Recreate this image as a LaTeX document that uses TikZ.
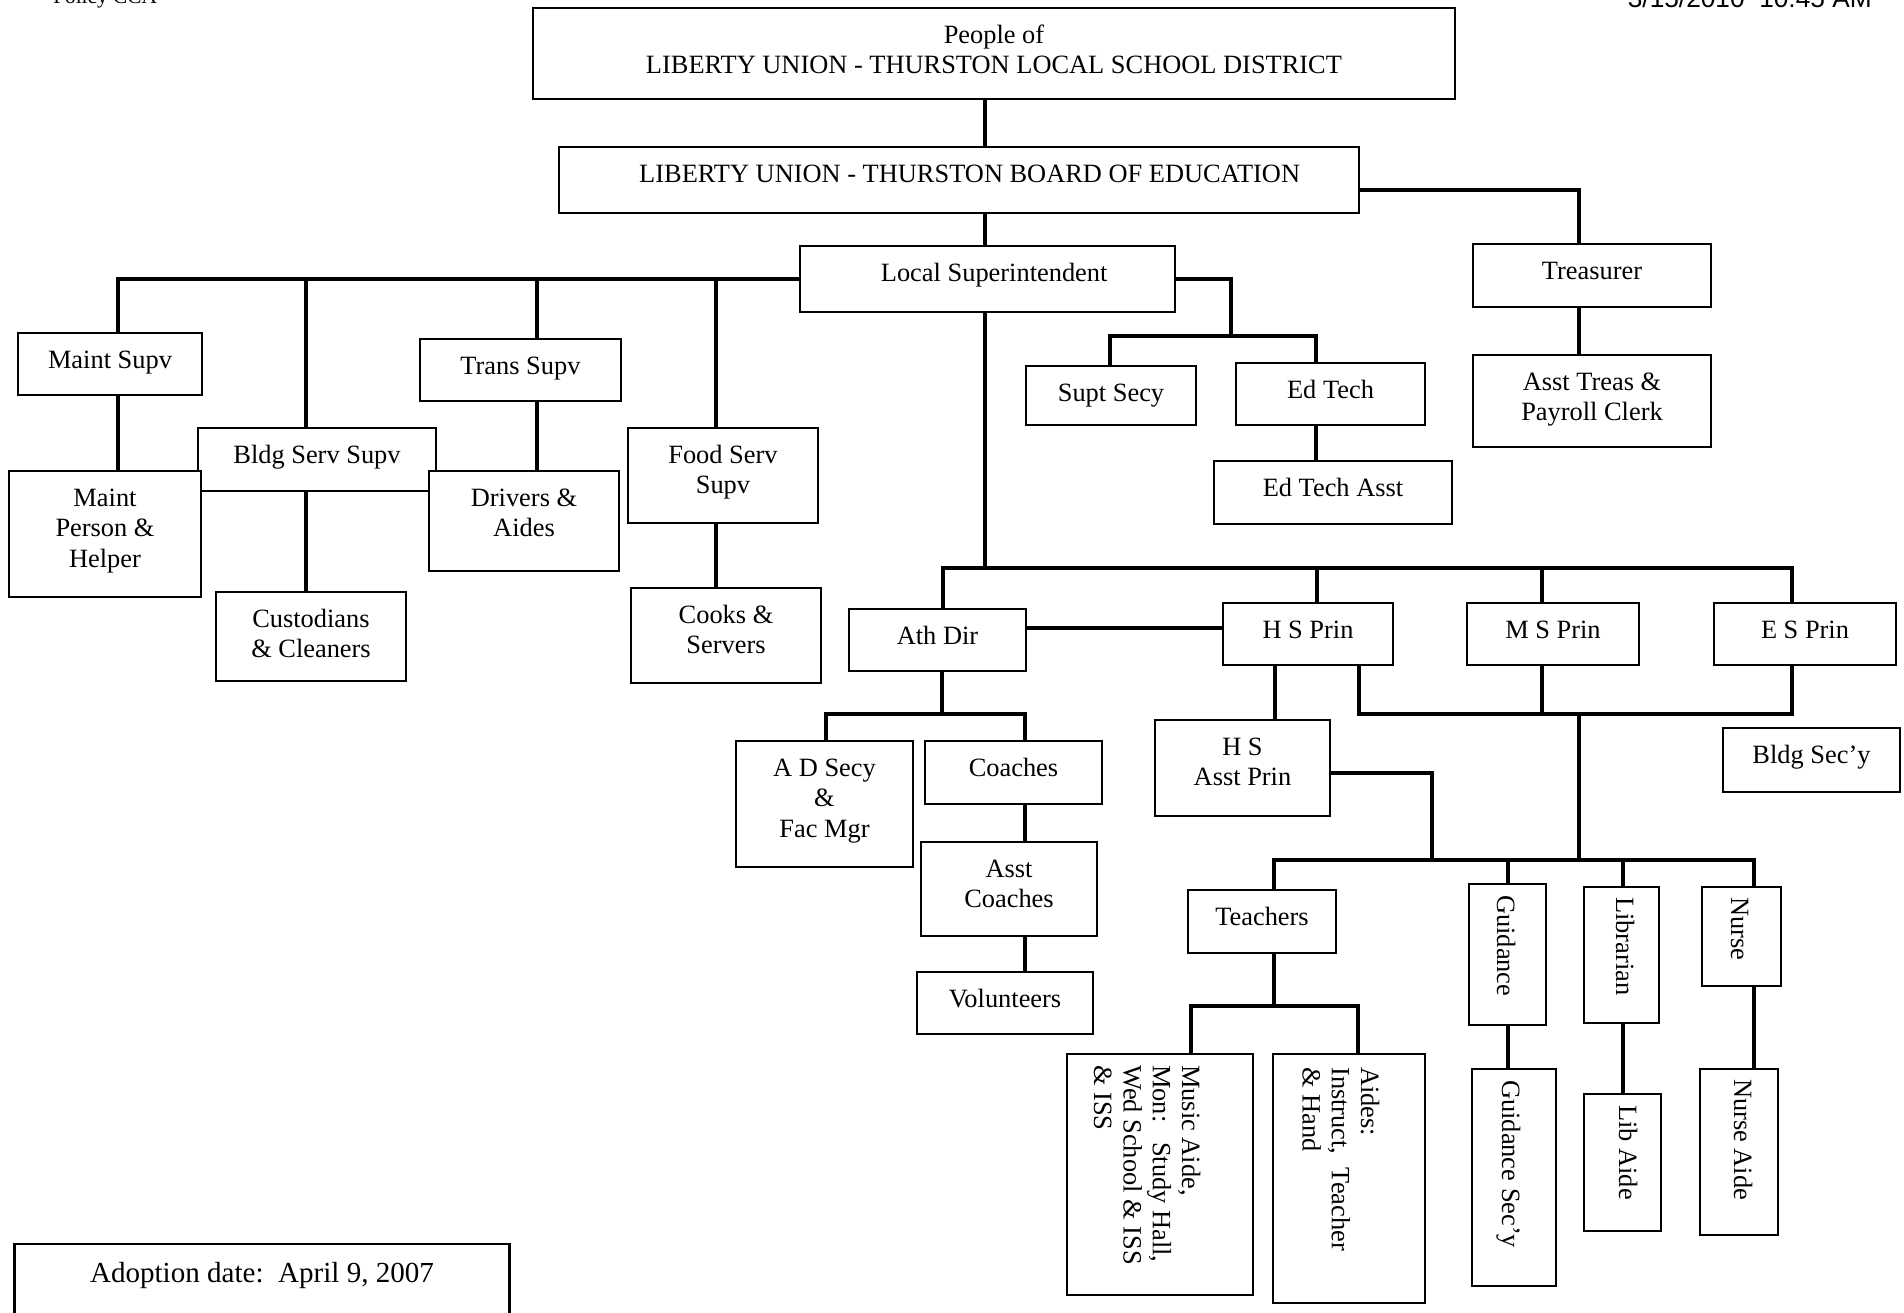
\documentclass[tikz,border=0pt]{standalone}
\usepackage{fontspec}
\setmainfont{Liberation Serif}
\newfontfamily\arialfont{Liberation Sans}
\tikzset{
  obx/.style={draw, fill=white, line width=2pt, inner sep=0pt},
  otx/.style={anchor=north, inner sep=0pt, align=center, font=\fontsize{19.8}{23}\selectfont},
  rtx/.style={anchor=north west, inner sep=0pt, align=left, rotate=-90, font=\fontsize{19.8}{22}\selectfont},
  conn/.style={line width=2.3pt, line cap=rect},
}
\newcommand\obox[7][0pt]{%
  \node[obx, minimum width={(#5-#3)*0.75pt}, minimum height={(#6-#4)*0.75pt}] (#2) at ({(#3+#5)/2},{(#4+#6)/2}) {};
  \node[otx] (#2-t) at ([yshift=-11pt, xshift=#1]#2.north) {\strut #7};}
\newcommand\rbox[8]{%
  \node[obx, minimum width={(#4-#2)*0.75pt}, minimum height={(#5-#3)*0.75pt}] (#1) at ({(#2+#4)/2},{(#3+#5)/2}) {};
  \node[rtx] (#1-t) at ({#7+3},#8) {\strut #6};}
\begin{document}
\begin{tikzpicture}[x=0.75pt, y=-0.75pt]
\useasboundingbox (0,0) rectangle (1904,1313);
\clip (0,0) rectangle (1904,1313);

% header texts
\node[anchor=base west, inner sep=0pt, font=\fontsize{16}{19}\selectfont] (policy) at (53,3.3) {Policy CCA};
\node[anchor=base east, inner sep=0pt, font=\arialfont\fontsize{19.7}{23}\selectfont] (date) at (1872,7.3) {3/15/2010\ \ 10:45 AM};

% junction coordinates
\coordinate (vMain) at (985,0);
\coordinate (vTre) at (1579,0);
\coordinate (eJ) at (1231,336);
\coordinate (eB1) at (1110,336);
\coordinate (eB2) at (1316,336);
\coordinate (lB) at (118,0);
\coordinate (lb2) at (306,0);
\coordinate (lb3) at (537,0);
\coordinate (lb4) at (716,0);
\coordinate (mL) at (943,568);
\coordinate (mR) at (1792,568);
\coordinate (xHS) at (1317,568);
\coordinate (xMS) at (1542,568);
\coordinate (ahY) at (0,628);
\coordinate (aJ) at (942,714);
\coordinate (aL) at (826,714);
\coordinate (aR) at (1025,714);
\coordinate (hA) at (1275,0);
\coordinate (pL) at (1359,714);
\coordinate (pM) at (1542,714);
\coordinate (pR) at (1792,714);
\coordinate (pJ) at (1579,714);
\coordinate (bJ) at (1579,860);
\coordinate (bL) at (1274,860);
\coordinate (bR) at (1754,860);
\coordinate (bG) at (1508,860);
\coordinate (bLi) at (1623,860);
\coordinate (tY) at (0,773);
\coordinate (tX) at (1432,860);
\coordinate (sJ) at (1274,1006);
\coordinate (sL) at (1191,1006);
\coordinate (sR) at (1358,1006);

% boxes
\obox{people}{533}{8}{1455}{99}{People of\\LIBERTY UNION - THURSTON LOCAL SCHOOL DISTRICT}
\obox[8pt]{board}{559}{147}{1359}{213}{LIBERTY UNION - THURSTON BOARD OF EDUCATION}
\obox[5pt]{sup}{800}{246}{1175}{312}{Local Superintendent}
\obox{treas}{1473}{244}{1711}{307}{Treasurer}
\obox{atreas}{1473}{355}{1711}{447}{Asst Treas \&\\Payroll Clerk}
\obox{secy}{1026}{366}{1196}{425}{Supt Secy}
\obox{edtech}{1236}{363}{1425}{425}{Ed Tech}
\obox{edasst}{1214}{461}{1452}{524}{Ed Tech Asst}
\obox{maint}{18}{333}{202}{395}{Maint Supv}
\obox{bldg}{198}{428}{436}{491}{Bldg Serv Supv}
\obox{trans}{420}{339}{621}{401}{Trans Supv}
\obox{cust}{216}{592}{406}{681}{Custodians\\\& Cleaners}
\obox{food}{628}{428}{818}{523}{Food Serv\\Supv}
\obox{cooks}{631}{588}{821}{683}{Cooks \&\\Servers}
\obox{athdir}{849}{609}{1026}{671}{Ath Dir}
\obox{hsprin}{1223}{603}{1393}{665}{H S Prin}
\obox{msprin}{1467}{603}{1639}{665}{M S Prin}
\obox{esprin}{1714}{603}{1896}{665}{E S Prin}
\obox{adsecy}{736}{741}{913}{867}{A D Secy\\\&\\Fac Mgr}
\obox{coaches}{925}{741}{1102}{804}{Coaches}
\obox{acoach}{921}{842}{1097}{936}{Asst\\Coaches}
\obox{vol}{917}{972}{1093}{1034}{Volunteers}
\obox{hsasst}{1155}{720}{1330}{816}{H S\\Asst Prin}
\obox{bldgsec}{1723}{728}{1900}{792}{Bldg Sec'y}
\obox{teachers}{1188}{890}{1336}{953}{Teachers}
\rbox{guid}{1469}{884}{1546}{1025}{Guidance}{1515}{895}
\rbox{lib}{1584}{887}{1659}{1023}{Librarian}{1634}{897}
\rbox{nurse}{1702}{887}{1781}{986}{Nurse}{1749}{897}
\rbox{music}{1067}{1054}{1253}{1295}{Music Aide,\\Mon:\ \ \ Study Hall,\\Wed School \& ISS\\\& ISS}{1200}{1065}
\rbox{aides}{1273}{1054}{1425}{1303}{Aides:\\Instruct,\ \ Teacher\\\& Hand}{1379}{1067}
\rbox{guidsec}{1472}{1069}{1556}{1286}{Guidance Sec'y}{1520}{1080}
\rbox{libaide}{1584}{1094}{1661}{1231}{Lib Aide}{1637}{1105}
\rbox{nurseaide}{1700}{1069}{1778}{1235}{Nurse Aide}{1752}{1079}

% adoption box
\node[obx, minimum width={(509.7-14.5)*0.75pt}, minimum height={(1345-1244)*0.75pt}] (adopt) at ({(14.5+509.7)/2},{(1244+1345)/2}) {};
\node[anchor=base, inner sep=0pt, font=\fontsize{21.8}{25}\selectfont] (adopt-t) at (262,1282) {Adoption date:\ \ April 9, 2007};

% connectors
\draw[conn] (people.south -| vMain) -- (board.north -| vMain);
\draw[conn] (board.south -| vMain) -- (sup.north -| vMain);
\draw[conn] ([yshift=-7.5pt]board.east) -| (treas.north -| vTre);
\draw[conn] (treas.south -| vTre) -- (atreas.north -| vTre);
\draw[conn] (sup.east) -| (eJ);
\draw[conn] (secy.north -| eB1) -- (eB1) -- (eB2) -- (edtech.north -| eB2);
\draw[conn] (edtech.south -| eB2) -- (edasst.north -| eB2);
\draw[conn] (sup.west) -- (sup.west -| lB) -- (maint.north -| lB);
\draw[conn] (sup.west -| lb2) -- (bldg.north -| lb2);
\draw[conn] (sup.west -| lb3) -- (trans.north -| lb3);
\draw[conn] (sup.west -| lb4) -- (food.north -| lb4);
\draw[conn] (bldg.south -| lb2) -- (cust.north -| lb2);
\draw[conn] (food.south -| lb4) -- (cooks.north -| lb4);
\draw[conn] (sup.south -| vMain) -- (vMain |- mL);
\draw[conn] (athdir.north -| mL) -- (mL) -- (mR) -- (esprin.north -| mR);
\draw[conn] (xHS) -- (hsprin.north -| xHS);
\draw[conn] (xMS) -- (msprin.north -| xMS);
\draw[conn] (athdir.east |- ahY) -- (hsprin.west |- ahY);
\draw[conn] (athdir.south -| aJ) -- (aJ);
\draw[conn] (adsecy.north -| aL) -- (aL) -- (aR) -- (coaches.north -| aR);
\draw[conn] (coaches.south -| aR) -- (acoach.north -| aR);
\draw[conn] (acoach.south -| aR) -- (vol.north -| aR);
\draw[conn] (hsprin.south -| hA) -- (hsasst.north -| hA);
\draw[conn] (hsprin.south -| pL) -- (pL) -- (pR) -- (esprin.south -| pR);
\draw[conn] (msprin.south -| pM) -- (pM);
\draw[conn] (pJ) -- (bJ);
\draw[conn] (hsasst.east |- tY) -| (tX);
\draw[conn] (teachers.north -| bL) -- (bL) -- (bR) -- (nurse.north -| bR);
\draw[conn] (bG) -- (guid.north -| bG);
\draw[conn] (bLi) -- (lib.north -| bLi);
\draw[conn] (teachers.south -| sJ) -- (sJ);
\draw[conn] (music.north -| sL) -- (sL) -- (sR) -- (aides.north -| sR);
\draw[conn] (guid.south -| bG) -- (guidsec.north -| bG);
\draw[conn] (lib.south -| bLi) -- (libaide.north -| bLi);
\draw[conn] (nurse.south -| bR) -- (nurseaide.north -| bR);

% Maint Person and Drivers lie over the Bldg Serv box
\obox{mperson}{9}{471}{201}{597}{Maint\\Person \&\\Helper}
\obox{drivers}{429}{471}{619}{571}{Drivers \&\\Aides}
\draw[conn] (maint.south -| lB) -- (mperson.north -| lB);
\draw[conn] (trans.south -| lb3) -- (drivers.north -| lb3);
\end{tikzpicture}
\end{document}
